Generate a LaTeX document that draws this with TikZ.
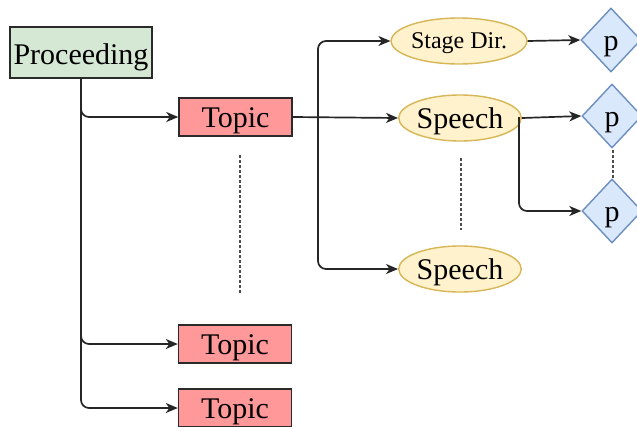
\documentclass[tikz,border=0pt]{standalone}
\usepackage{fontspec}
\setmainfont{Liberation Serif}
\usetikzlibrary{shapes.geometric,arrows.meta}
\definecolor{procfill}{HTML}{D5E8D4}
\definecolor{topicfill}{HTML}{FF9999}
\definecolor{ellfill}{HTML}{FFF2CC}
\definecolor{elldraw}{HTML}{D6B656}
\definecolor{diafill}{HTML}{DAE8FC}
\definecolor{diadraw}{HTML}{6C8EBF}
\definecolor{boxdraw}{HTML}{2A2A2A}
\tikzset{
  txt/.style={font=\fontsize{30}{31}\selectfont,text height=23pt,text depth=3pt},
  procbox/.style={txt,draw=boxdraw,fill=procfill,line width=1.4pt,minimum width=142pt,minimum height=51pt,inner sep=0pt},
  topicbox/.style={txt,draw=boxdraw,fill=topicfill,line width=1.4pt,minimum width=113pt,minimum height=38pt,inner sep=0pt},
  ellbox/.style={txt,ellipse,draw=elldraw,fill=ellfill,line width=1.4pt,minimum width=113pt,minimum height=46pt,inner sep=0pt},
  diabox/.style={txt,diamond,draw=diadraw,fill=diafill,line width=1.4pt,minimum width=60pt,minimum height=64pt,inner sep=0pt},
  arr/.style={draw=black!85,line width=1.7pt,-{Stealth[length=12pt,width=10pt,inset=3.5pt]},rounded corners=8pt},
  dots/.style={draw=black!70,line width=1.6pt,dash pattern=on 2.5pt off 2.5pt}
}
\begin{document}
\begin{tikzpicture}[x=1pt,y=-1pt]
\useasboundingbox (0,0) rectangle (637,426);
\node[procbox,text height=24pt,text depth=1pt] (proc) at (81,52.5) {Proceeding};
\node[topicbox] (t1) at (235.5,117) {Topic};
\node[topicbox] (t2) at (235,344) {Topic};
\node[topicbox] (t3) at (235,408) {Topic};
\node[ellbox,font=\fontsize{24}{25}\selectfont,text height=18pt,text depth=3pt] (sd) at (459,41) {Stage Dir.};
\node[ellbox] (sp1) at (460,118) {Speech};
\node[ellbox] (sp2) at (460,269) {Speech};
\node[diabox] (p1) at (611,40) {p};
\node[diabox] (p2) at (612,116) {p};
\node[diabox] (p3) at (612,211) {p};
\coordinate (j1) at (318,117);
\coordinate (j2) at (519,117);
% connectors
\draw[arr] (proc.south) |- (t1.west);
\draw[arr] (proc.south) |- (t2.west);
\draw[arr] (proc.south) |- (t3.west);
\draw[arr] (t1.east) -- (sp1.west);
\draw[arr] (j1) |- (sd.west);
\draw[arr] (j1) |- (sp2.west);
\draw[arr] (sd.east) -- (p1.west);
\draw[arr] (sp1.east) -- (p2.west);
\draw[arr] (j2) |- (p3.west);
% ellipsis dots
\coordinate (d1a) at (240,155); \coordinate (d1b) at (240,293);
\coordinate (d2a) at (461,158); \coordinate (d2b) at (461,230);
\coordinate (d3a) at (613,150); \coordinate (d3b) at (613,178);
\draw[dots] (d1a) -- (d1b);
\draw[dots] (d2a) -- (d2b);
\draw[dots] (d3a) -- (d3b);
\end{tikzpicture}
\end{document}
